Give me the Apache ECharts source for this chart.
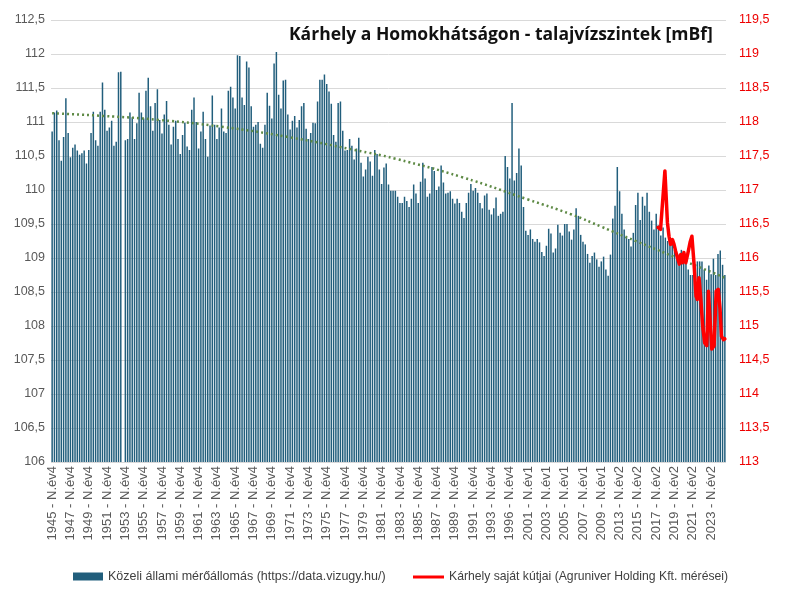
<!DOCTYPE html>
<html>
<head>
<meta charset="utf-8">
<script src="https://cdn.jsdelivr.net/npm/echarts@6/dist/echarts.min.js"></script>
<style>html,body{margin:0;padding:0;background:#fff;}#c{width:794px;height:596px;}</style>
</head>
<body>
<div id="c"></div>
<script>
// x-axis tick labels (one every 8 categories)
const tickLabels = ['1945 - N.év4','1947 - N.év4','1949 - N.év4','1951 - N.év4','1953 - N.év4','1955 - N.év4','1957 - N.év4','1959 - N.év4','1961 - N.év4','1963 - N.év4','1965 - N.év4','1967 - N.év4','1969 - N.év4','1971 - N.év4','1973 - N.év4','1975 - N.év4','1977 - N.év4','1979 - N.év4','1981 - N.év4','1983 - N.év4','1985 - N.év4','1987 - N.év4','1989 - N.év4','1991 - N.év4','1993 - N.év4','1996 - N.év4','2001 - N.év1','2003 - N.év1','2005 - N.év1','2007 - N.év1','2009 - N.év1','2013 - N.év2','2015 - N.év2','2017 - N.év2','2019 - N.év2','2021 - N.év2','2023 - N.év2'];

// state monitoring well (left axis), one value per category
const stationValues = [
110.86,111.14,111.17,110.73,110.43,110.78,111.35,110.84,110.48,110.62,
110.67,110.58,110.52,110.54,110.58,110.39,110.59,110.84,111.15,110.73,
110.65,111.15,111.58,111.18,110.87,110.92,111.02,110.65,110.71,111.73,
111.74,null,110.73,110.75,111.14,111.07,110.75,110.98,111.43,111.14,
111.05,111.46,111.65,111.23,110.87,111.28,111.48,111.03,110.83,111.11,
111.31,110.96,110.67,110.93,111.02,110.75,110.53,110.81,110.99,110.64,
110.59,111.18,111.36,111.00,110.61,110.86,111.15,110.75,110.49,110.95,
111.39,110.96,110.75,110.92,111.20,110.86,110.84,111.46,111.52,111.36,
111.20,111.98,111.97,111.36,111.25,111.89,111.80,111.23,110.93,110.96,
111.00,110.68,110.62,110.96,111.43,111.24,111.05,111.86,112.03,111.40,
111.20,111.61,111.62,111.11,110.89,111.02,111.09,110.92,111.03,111.23,
111.28,110.90,110.75,110.84,110.99,110.98,111.30,111.62,111.62,111.70,
111.56,111.45,111.27,110.81,110.71,111.28,111.30,110.87,110.58,110.59,
110.75,110.65,110.45,110.61,110.77,110.40,110.20,110.30,110.49,110.42,
110.21,110.59,110.53,110.30,110.09,110.33,110.39,110.08,109.99,109.99,
109.99,109.90,109.81,109.81,109.90,109.84,109.75,109.87,110.08,109.95,
109.81,110.12,110.40,110.17,109.90,109.95,110.34,110.28,110.00,110.05,
110.36,110.11,109.95,109.96,109.98,109.87,109.80,109.87,109.81,109.68,
109.59,109.81,109.96,110.09,109.99,110.03,109.96,109.81,109.73,109.92,
109.95,109.71,109.64,109.73,109.89,109.62,109.65,109.68,110.50,110.34,
110.17,111.28,110.14,110.25,110.61,110.36,109.75,109.40,109.34,109.42,
109.28,109.24,109.28,109.23,109.09,109.03,109.18,109.43,109.36,109.08,
109.14,109.49,109.37,109.33,109.50,109.50,109.39,109.27,109.42,109.73,
109.62,109.34,109.24,109.20,109.06,108.93,109.03,109.08,108.98,108.87,
108.95,109.02,108.83,108.74,109.05,109.58,109.77,110.34,109.98,109.65,
109.42,109.31,109.28,109.17,109.37,109.78,109.96,109.56,109.90,109.77,
109.96,109.68,109.55,109.42,109.65,109.48,109.33,109.45,109.30,109.25,
109.21,109.21,109.12,109.07,109.05,109.12,109.03,108.93,108.83,108.75,
108.75,108.83,108.95,108.95,108.95,108.83,108.68,108.89,108.76,108.99,
108.75,109.06,109.11,108.90,108.75
];

// trend line (read at several category positions)
const trendPos = [0, 22, 47, 74, 103, 132, 150, 179, 208, 227, 240, 255, 284, 294];
const trendVal = [111.13, 111.09, 111.03, 110.93, 110.78, 110.59, 110.46, 110.19, 109.86, 109.64, 109.46, 109.25, 108.85, 108.71];

// own wells (right axis), positions in category units
const redPos = [264.8,265.9,267.8,268.9,269.6,270.3,271.1,271.8,272.5,273.3,274.1,274.7,275.4,276.1,276.9,277.9,278.8,279.6,280.5,281.4,282.0,282.7,283.5,284.3,285.2,286.1,286.8,287.5,288.3,289.3,290.2,291.1,291.9,292.5,293.4,294.0];
const redVal = [116.45,116.42,117.28,116.52,116.32,116.20,116.27,116.20,116.10,116.08,115.91,116.05,115.93,116.08,115.93,116.08,116.23,116.32,115.93,115.44,115.39,115.71,115.39,115.00,114.75,114.71,115.51,115.51,114.66,114.71,115.51,115.54,115.25,114.85,114.80,114.81];

const barName = 'Közeli állami mérőállomás (https://data.vizugy.hu/)';
const lineName = 'Kárhely saját kútjai (Agruniver Holding Kft. mérései)';
const titleText = 'Kárhely a Homokhátságon - talajvízszintek [mBf]';

const N = stationValues.length;
const categories = stationValues.map((v, i) => (i % 8 === 0 && tickLabels[i / 8]) ? tickLabels[i / 8] : 'c' + i);

const fmt = v => String(v).replace('.', ',');
const chart = echarts.init(document.getElementById('c'), null, {renderer: 'canvas'});
chart.setOption({
  animation: false,
  backgroundColor: '#ffffff',
  title: {
    text: titleText, left: 289, top: 26, padding: 0,
    textStyle: {fontFamily: 'Open Sans', fontWeight: 'bold', fontSize: 17.5, color: '#111'}
  },
  legend: [
    {data: [{name: barName, icon: 'rect'}], left: 73, top: 570, padding: 0, itemWidth: 30, itemHeight: 8,
     textStyle: {fontFamily: 'Liberation Sans', fontSize: 12.5, color: '#404040'}},
    {data: [{name: lineName, icon: 'rect'}], left: 413, top: 571, padding: 0, itemWidth: 31, itemHeight: 3,
     textStyle: {fontFamily: 'Liberation Sans', fontSize: 12.2, color: '#404040'}}
  ],
  grid: {left: 51, right: 68, top: 20, bottom: 134},
  xAxis: [
    {type: 'category', data: categories, boundaryGap: true,
     axisLine: {show: false}, axisTick: {show: false},
     axisLabel: {interval: 7, rotate: 90, margin: 4, fontFamily: 'Liberation Sans', fontSize: 13, color: '#595959'}},
    {type: 'value', min: -0.5, max: N - 0.5, show: false}
  ],
  yAxis: [
    {type: 'value', min: 106, max: 112.5, interval: 0.5,
     axisLine: {show: false}, axisTick: {show: false},
     splitLine: {lineStyle: {color: '#d9d9d9', width: 1}},
     axisLabel: {formatter: fmt, margin: 6, fontFamily: 'Liberation Sans', fontSize: 12.5, color: '#595959'}},
    {type: 'value', min: 113, max: 119.5, interval: 0.5, position: 'right',
     axisLine: {show: false}, axisTick: {show: false}, splitLine: {show: false},
     axisLabel: {formatter: fmt, margin: 13, fontFamily: 'Liberation Sans', fontSize: 12.5, color: '#ee0000'}}
  ],
  series: [
    {name: barName, type: 'bar', data: stationValues, xAxisIndex: 0, yAxisIndex: 0,
     barCategoryGap: '35%', itemStyle: {color: '#215E7C'}, clip: true},
    {name: 'trend', type: 'line', xAxisIndex: 1, yAxisIndex: 0, data: trendPos.map((p, i) => [p, trendVal[i]]),
     showSymbol: false, smooth: true, lineStyle: {color: '#5E8A45', width: 2.5, type: [2, 3]}, z: 3},
    {name: lineName, type: 'line', xAxisIndex: 1, yAxisIndex: 1, data: redPos.map((p, i) => [p, redVal[i]]),
     showSymbol: false, lineStyle: {color: '#ff0000', width: 3.5, join: 'round', cap: 'round'}, itemStyle: {color: '#ff0000'}, z: 4}
  ]
});
</script>
</body>
</html>
